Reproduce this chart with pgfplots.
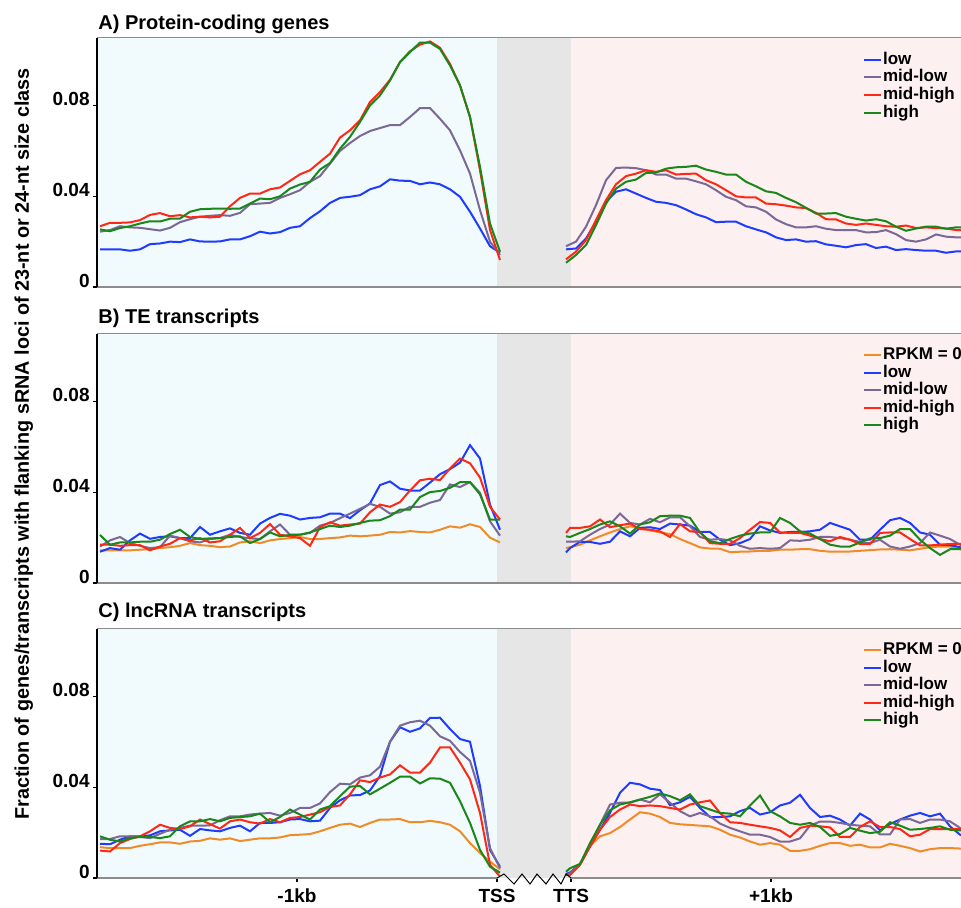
\documentclass[border=0pt]{standalone}
\usepackage{fontspec}
\setmainfont{Liberation Sans}
\usepackage{pgfplots}
\usepackage{pgfplotstable}
\pgfplotsset{compat=1.18}

\definecolor{cRPKM}{RGB}{240,140,40}
\definecolor{cLow}{RGB}{30,60,255}
\definecolor{cMidLow}{RGB}{122,104,150}
\definecolor{cMidHigh}{RGB}{255,40,20}
\definecolor{cHigh}{RGB}{25,135,25}
\definecolor{bgUp}{RGB}{241,250,253}
\definecolor{bgBody}{RGB}{230,230,230}
\definecolor{bgDown}{RGB}{253,240,240}
\definecolor{frameGray}{RGB}{140,140,140}

% ---------- A) protein-coding genes: upstream of TSS (kb) ----------
\pgfplotstableread{
x lo ml mh hi
-1.985 .0166 .0244 .0268 .0254
-1.935 .0166 .0251 .0283 .0246
-1.885 .0166 .0268 .0283 .0260
-1.835 .0160 .0263 .0285 .0268
-1.785 .0166 .0261 .0295 .0280
-1.735 .0189 .0255 .0318 .0290
-1.685 .0192 .0249 .0326 .0289
-1.635 .0200 .0261 .0312 .0301
-1.585 .0198 .0286 .0317 .0302
-1.535 .0210 .0299 .0307 .0332
-1.485 .0201 .0310 .0310 .0343
-1.435 .0200 .0314 .0307 .0345
-1.385 .0201 .0317 .0310 .0346
-1.335 .0210 .0314 .0356 .0345
-1.285 .0210 .0327 .0393 .0346
-1.235 .0224 .0365 .0412 .0368
-1.185 .0244 .0368 .0412 .0390
-1.135 .0236 .0371 .0431 .0387
-1.085 .0242 .0393 .0439 .0400
-1.035 .0261 .0409 .0468 .0434
-0.985 .0268 .0427 .0497 .0452
-0.935 .0304 .0464 .0515 .0464
-0.885 .0334 .0489 .0552 .0518
-0.835 .0371 .0544 .0588 .0547
-0.785 .0393 .0600 .0659 .0610
-0.735 .0398 .0635 .0691 .0662
-0.685 .0405 .0666 .0735 .0728
-0.635 .0431 .0688 .0816 .0801
-0.585 .0444 .0701 .0860 .0845
-0.535 .0475 .0714 .0914 .0911
-0.485 .0469 .0714 .0992 .0992
-0.435 .0468 .0750 .1040 .1036
-0.385 .0453 .0789 .1069 .1078
-0.335 .0461 .0789 .1083 .1078
-0.285 .0453 .0742 .1055 .1050
-0.235 .0431 .0691 .0984 .0977
-0.185 .0398 .0603 .0889 .0889
-0.135 .0332 .0500 .0750 .0750
-0.085 .0258 .0339 .0515 .0530
-0.035 .0180 .0200 .0251 .0280
0.015 .0151 .0141 .0119 .0156
}\protUp
% downstream of TTS (kb)
\pgfplotstableread{
x lo ml mh hi
-0.025 .0166 .0180 .0122 .0107
0.025 .0170 .0200 .0156 .0141
0.075 .0214 .0266 .0207 .0185
0.125 .0288 .0361 .0295 .0273
0.175 .0376 .0471 .0383 .0368
0.225 .0420 .0525 .0453 .0434
0.275 .0431 .0527 .0489 .0464
0.325 .0412 .0524 .0500 .0474
0.375 .0393 .0515 .0515 .0503
0.425 .0376 .0496 .0508 .0505
0.475 .0371 .0496 .0515 .0522
0.525 .0361 .0478 .0496 .0528
0.575 .0342 .0478 .0499 .0530
0.625 .0321 .0466 .0500 .0535
0.675 .0307 .0453 .0471 .0518
0.725 .0286 .0427 .0453 .0508
0.775 .0288 .0398 .0427 .0496
0.825 .0288 .0383 .0400 .0496
0.875 .0268 .0356 .0395 .0464
0.925 .0254 .0351 .0395 .0444
0.975 .0241 .0332 .0368 .0422
1.025 .0219 .0298 .0365 .0415
1.075 .0207 .0277 .0359 .0393
1.125 .0210 .0263 .0351 .0374
1.175 .0200 .0263 .0348 .0349
1.225 .0202 .0268 .0327 .0324
1.275 .0188 .0257 .0299 .0324
1.325 .0182 .0251 .0298 .0326
1.375 .0175 .0251 .0280 .0310
1.425 .0185 .0251 .0274 .0301
1.475 .0189 .0241 .0280 .0293
1.525 .0172 .0242 .0274 .0299
1.575 .0178 .0251 .0268 .0290
1.625 .0163 .0233 .0266 .0266
1.675 .0167 .0207 .0271 .0248
1.725 .0163 .0200 .0260 .0258
1.775 .0160 .0210 .0263 .0266
1.825 .0160 .0232 .0260 .0266
1.875 .0151 .0222 .0258 .0257
1.925 .0157 .0219 .0251 .0263
1.975 .0157 .0219 .0251 .0263
}\protDown

% ---------- B) TE transcripts ----------
\pgfplotstableread{
x r0 lo ml mh hi
-1.985 .0144 .0138 .0161 .0169 .0212
-1.935 .0144 .0154 .0188 .0169 .0169
-1.885 .0144 .0147 .0203 .0164 .0179
-1.835 .0144 .0188 .0176 .0167 .0179
-1.785 .0147 .0218 .0164 .0167 .0182
-1.735 .0149 .0195 .0154 .0144 .0182
-1.685 .0154 .0203 .0158 .0161 .0191
-1.635 .0158 .0206 .0209 .0173 .0216
-1.585 .0164 .0198 .0198 .0198 .0235
-1.535 .0176 .0198 .0184 .0188 .0203
-1.485 .0167 .0247 .0179 .0198 .0194
-1.435 .0164 .0213 .0194 .0179 .0197
-1.385 .0158 .0228 .0198 .0184 .0198
-1.335 .0161 .0241 .0213 .0213 .0203
-1.285 .0179 .0221 .0203 .0243 .0206
-1.235 .0184 .0213 .0197 .0198 .0176
-1.185 .0176 .0262 .0194 .0221 .0194
-1.135 .0188 .0287 .0228 .0260 .0223
-1.085 .0194 .0305 .0258 .0213 .0206
-1.035 .0198 .0297 .0213 .0206 .0212
-0.985 .0203 .0280 .0213 .0198 .0213
-0.935 .0194 .0287 .0221 .0164 .0223
-0.885 .0194 .0290 .0253 .0246 .0238
-0.835 .0198 .0306 .0265 .0268 .0253
-0.785 .0201 .0306 .0286 .0253 .0247
-0.735 .0209 .0286 .0306 .0258 .0253
-0.685 .0206 .0321 .0327 .0262 .0265
-0.635 .0209 .0351 .0349 .0312 .0275
-0.585 .0213 .0432 .0336 .0346 .0277
-0.535 .0225 .0448 .0306 .0336 .0295
-0.485 .0223 .0416 .0312 .0357 .0324
-0.435 .0229 .0408 .0336 .0408 .0324
-0.385 .0225 .0408 .0336 .0453 .0379
-0.335 .0223 .0443 .0354 .0460 .0401
-0.285 .0235 .0480 .0366 .0454 .0406
-0.235 .0250 .0502 .0435 .0505 .0420
-0.185 .0244 .0531 .0423 .0549 .0445
-0.135 .0259 .0608 .0445 .0528 .0445
-0.085 .0247 .0549 .0398 .0465 .0391
-0.035 .0200 .0346 .0272 .0336 .0280
0.015 .0179 .0235 .0209 .0280 .0280
}\teUp
\pgfplotstableread{
x r0 lo ml mh hi
-0.025 .0154 .0135 .0182 .0221 .0206
-0.005 .0158 .0154 .0182 .0243 .0203
0.045 .0169 .0182 .0184 .0243 .0221
0.095 .0188 .0181 .0213 .0250 .0238
0.145 .0206 .0173 .0238 .0280 .0258
0.195 .0223 .0182 .0258 .0246 .0272
0.245 .0238 .0228 .0306 .0255 .0250
0.295 .0250 .0206 .0265 .0262 .0218
0.345 .0243 .0243 .0258 .0238 .0258
0.395 .0232 .0246 .0283 .0235 .0268
0.445 .0223 .0238 .0268 .0228 .0295
0.495 .0216 .0262 .0290 .0203 .0297
0.545 .0194 .0258 .0290 .0260 .0297
0.595 .0176 .0253 .0250 .0228 .0287
0.645 .0157 .0225 .0203 .0225 .0223
0.695 .0152 .0225 .0191 .0176 .0184
0.745 .0151 .0191 .0194 .0173 .0176
0.795 .0136 .0167 .0188 .0173 .0194
0.845 .0138 .0176 .0164 .0198 .0209
0.895 .0139 .0194 .0151 .0235 .0218
0.945 .0142 .0250 .0154 .0269 .0223
0.995 .0142 .0232 .0151 .0265 .0223
1.045 .0147 .0221 .0154 .0223 .0287
1.095 .0147 .0225 .0188 .0221 .0265
1.145 .0149 .0225 .0186 .0221 .0228
1.195 .0149 .0228 .0191 .0209 .0218
1.245 .0142 .0235 .0203 .0194 .0194
1.295 .0138 .0265 .0203 .0184 .0169
1.345 .0138 .0250 .0198 .0203 .0161
1.395 .0139 .0235 .0191 .0191 .0161
1.445 .0142 .0191 .0181 .0172 .0179
1.495 .0145 .0191 .0176 .0172 .0197
1.545 .0148 .0235 .0191 .0221 .0198
1.595 .0149 .0277 .0161 .0223 .0209
1.645 .0147 .0287 .0151 .0223 .0238
1.695 .0144 .0265 .0161 .0194 .0238
1.745 .0151 .0223 .0176 .0166 .0191
1.795 .0158 .0213 .0223 .0166 .0154
1.845 .0161 .0169 .0209 .0169 .0124
1.895 .0161 .0167 .0194 .0172 .0149
1.945 .0151 .0158 .0169 .0173 .0149
1.995 .0147 .0149 .0154 .0169 .0144
}\teDown

% ---------- C) lncRNA transcripts ----------
\pgfplotstableread{
x r0 lo ml mh hi
-1.985 .0136 .0151 .0172 .0121 .0184
-1.935 .0132 .0149 .0172 .0117 .0169
-1.885 .0132 .0169 .0184 .0154 .0161
-1.835 .0132 .0184 .0184 .0172 .0176
-1.785 .0142 .0184 .0181 .0184 .0181
-1.735 .0149 .0188 .0176 .0206 .0181
-1.685 .0157 .0206 .0195 .0235 .0176
-1.635 .0157 .0210 .0213 .0221 .0184
-1.585 .0151 .0213 .0221 .0216 .0228
-1.535 .0161 .0186 .0231 .0228 .0250
-1.485 .0164 .0216 .0231 .0258 .0250
-1.435 .0175 .0210 .0232 .0238 .0260
-1.385 .0169 .0206 .0255 .0218 .0250
-1.335 .0175 .0221 .0272 .0250 .0265
-1.285 .0163 .0231 .0272 .0258 .0269
-1.235 .0169 .0206 .0280 .0246 .0272
-1.185 .0175 .0243 .0284 .0240 .0284
-1.135 .0175 .0243 .0287 .0260 .0246
-1.085 .0179 .0246 .0275 .0246 .0269
-1.035 .0189 .0258 .0287 .0265 .0302
-0.985 .0191 .0260 .0309 .0269 .0280
-0.935 .0194 .0250 .0309 .0280 .0258
-0.885 .0206 .0253 .0329 .0290 .0302
-0.835 .0221 .0309 .0379 .0314 .0317
-0.785 .0235 .0343 .0416 .0320 .0361
-0.735 .0240 .0364 .0413 .0369 .0403
-0.685 .0225 .0366 .0443 .0431 .0406
-0.635 .0243 .0386 .0453 .0423 .0369
-0.585 .0258 .0450 .0491 .0443 .0394
-0.535 .0258 .0601 .0601 .0457 .0420
-0.485 .0260 .0665 .0672 .0497 .0447
-0.435 .0246 .0645 .0687 .0465 .0447
-0.385 .0246 .0660 .0694 .0465 .0417
-0.335 .0252 .0706 .0672 .0509 .0440
-0.285 .0246 .0707 .0625 .0576 .0438
-0.235 .0235 .0657 .0605 .0576 .0420
-0.185 .0206 .0613 .0556 .0509 .0339
-0.135 .0154 .0601 .0517 .0435 .0243
-0.085 .0110 .0406 .0376 .0287 .0124
-0.035 .0073 .0124 .0132 .0058 .0050
0.015 .0038 .0050 .0043 .0006 .0024
}\lncUp
\pgfplotstableread{
x r0 lo ml mh hi
-0.025 .0013 .0018 .0009 .0006 .0028
-0.005 .0024 .0024 .0021 .0013 .0043
0.045 .0058 .0062 .0062 .0058 .0062
0.095 .0142 .0139 .0142 .0139 .0154
0.145 .0184 .0213 .0235 .0213 .0235
0.195 .0198 .0287 .0324 .0269 .0299
0.245 .0225 .0376 .0332 .0302 .0324
0.295 .0258 .0420 .0332 .0324 .0334
0.345 .0290 .0413 .0346 .0317 .0346
0.395 .0284 .0394 .0334 .0320 .0358
0.445 .0269 .0388 .0369 .0317 .0373
0.495 .0243 .0321 .0332 .0309 .0361
0.545 .0237 .0334 .0295 .0302 .0343
0.595 .0234 .0358 .0272 .0324 .0369
0.645 .0231 .0309 .0287 .0334 .0317
0.695 .0228 .0269 .0272 .0342 .0302
0.745 .0213 .0269 .0240 .0287 .0287
0.795 .0191 .0272 .0221 .0246 .0284
0.845 .0179 .0295 .0206 .0243 .0272
0.895 .0161 .0309 .0191 .0235 .0320
0.945 .0147 .0280 .0191 .0228 .0364
0.995 .0154 .0290 .0181 .0221 .0295
1.045 .0147 .0320 .0161 .0210 .0272
1.095 .0120 .0332 .0161 .0181 .0243
1.145 .0120 .0367 .0175 .0221 .0235
1.195 .0127 .0309 .0231 .0231 .0243
1.245 .0142 .0269 .0249 .0228 .0225
1.295 .0154 .0275 .0249 .0223 .0186
1.345 .0154 .0258 .0243 .0181 .0194
1.395 .0142 .0231 .0235 .0181 .0221
1.445 .0147 .0284 .0231 .0225 .0209
1.495 .0135 .0258 .0228 .0250 .0198
1.545 .0135 .0210 .0192 .0225 .0204
1.595 .0151 .0238 .0192 .0225 .0246
1.645 .0142 .0258 .0258 .0216 .0231
1.695 .0132 .0275 .0260 .0184 .0213
1.745 .0117 .0287 .0243 .0191 .0216
1.795 .0127 .0272 .0258 .0216 .0221
1.845 .0132 .0284 .0258 .0216 .0228
1.895 .0132 .0228 .0250 .0216 .0213
1.945 .0130 .0191 .0221 .0216 .0210
1.995 .0129 .0184 .0206 .0216 .0216
}\lncDown

% gene body (TSS..TTS) is drawn as a fixed-width gap of 0.37 units
\newcommand{\bodygap}{0.37}

\pgfplotsset{
  profile/.style={
    scale only axis, width=432pt, height=124.7pt,
    xmin=-2, xmax=2.32, ymin=0, ymax=0.11,
    axis on top,
    axis x line*=box, axis y line*=left,
    x axis line style={-, draw=frameGray, line width=0.7pt},
    y axis line style={-, draw=black, line width=0.7pt},
    tick pos=left, tick align=outside,
    major tick length=2pt,
    tick style={black, line width=0.6pt},
    ytick={0,0.04,0.08},
    yticklabels={\textbf{0},\textbf{0.04},\textbf{0.08}},
    yticklabel style={anchor=base east, inner sep=0pt, xshift=-1.5pt,
      font=\fontsize{9.5}{11}\selectfont\bfseries},
    xtick=\empty,
    every axis plot/.append style={line width=1pt, no marks},
    title style={at={(0,1)}, anchor=base west, inner sep=0pt, xshift=0.5pt,
      font=\fontsize{10}{12}\selectfont\bfseries},
    legend cell align=left,
    legend image code/.code={\draw[##1] (0pt,0pt) -- (8.5pt,0pt);},
    legend style={draw=none, fill=none, anchor=north west, inner sep=0pt,
      font=\fontsize{8.5}{10}\selectfont\bfseries, row sep=0.2pt,
      nodes={inner sep=0.3pt, text height=6.2pt, text depth=1.8pt}},
  },
}

\newcommand{\regions}{%
  \fill[bgUp] (axis cs:-2.1,0) rectangle (axis cs:0,0.11);
  \fill[bgBody] (axis cs:0,0) rectangle (axis cs:\bodygap,0.11);
  \fill[bgDown] (axis cs:\bodygap,0) rectangle (axis cs:2.5,0.11);
}

\begin{document}
\begin{tikzpicture}

% ---------------- A ----------------
% (the default title style already lifts the title by 6pt)
\begin{axis}[profile, at={(0pt,295.5pt)}, anchor=south west,
  title={A) Protein-coding genes}, title style={yshift=-1.8pt},
  legend style={at={(0.8866,0.947)}},
  legend entries={low,mid-low,mid-high,high}]
\regions
\addplot[cLow]     table[x=x,y=lo]{\protUp};
\addplot[cMidLow]  table[x=x,y=ml]{\protUp};
\addplot[cMidHigh] table[x=x,y=mh]{\protUp};
\addplot[cHigh]    table[x=x,y=hi]{\protUp};
\addplot[cLow,forget plot]     table[x expr=\thisrow{x}+\bodygap,y=lo]{\protDown};
\addplot[cMidLow,forget plot]  table[x expr=\thisrow{x}+\bodygap,y=ml]{\protDown};
\addplot[cMidHigh,forget plot] table[x expr=\thisrow{x}+\bodygap,y=mh]{\protDown};
\addplot[cHigh,forget plot]    table[x expr=\thisrow{x}+\bodygap,y=hi]{\protDown};
\end{axis}

% ---------------- B ----------------
\begin{axis}[profile, at={(0pt,147.5pt)}, anchor=south west,
  title={B) TE transcripts}, title style={yshift=-0.7pt},
  legend style={at={(0.8866,0.95)}},
  legend entries={RPKM = 0,low,mid-low,mid-high,high}]
\regions
\addplot[cRPKM]    table[x=x,y=r0]{\teUp};
\addplot[cLow]     table[x=x,y=lo]{\teUp};
\addplot[cMidLow]  table[x=x,y=ml]{\teUp};
\addplot[cMidHigh] table[x=x,y=mh]{\teUp};
\addplot[cHigh]    table[x=x,y=hi]{\teUp};
\addplot[cRPKM,forget plot]    table[x expr=\thisrow{x}+\bodygap,y=r0]{\teDown};
\addplot[cLow,forget plot]     table[x expr=\thisrow{x}+\bodygap,y=lo]{\teDown};
\addplot[cMidLow,forget plot]  table[x expr=\thisrow{x}+\bodygap,y=ml]{\teDown};
\addplot[cMidHigh,forget plot] table[x expr=\thisrow{x}+\bodygap,y=mh]{\teDown};
\addplot[cHigh,forget plot]    table[x expr=\thisrow{x}+\bodygap,y=hi]{\teDown};
\end{axis}

% ---------------- C ----------------
\begin{axis}[profile, at={(0pt,0pt)}, anchor=south west,
  title={C) lncRNA transcripts}, title style={yshift=-0.5pt},
  legend style={at={(0.8866,0.95)}},
  legend entries={RPKM = 0,low,mid-low,mid-high,high},
  xtick={-1,0,0.37,1.37},
  xticklabels={\textbf{-1kb},\textbf{TSS},\textbf{TTS},\textbf{+1kb}},
  xticklabel style={font=\fontsize{9.5}{11}\selectfont\bfseries}]
\regions
\addplot[cRPKM]    table[x=x,y=r0]{\lncUp};
\addplot[cLow]     table[x=x,y=lo]{\lncUp};
\addplot[cMidLow]  table[x=x,y=ml]{\lncUp};
\addplot[cMidHigh] table[x=x,y=mh]{\lncUp};
\addplot[cHigh]    table[x=x,y=hi]{\lncUp};
\addplot[cRPKM,forget plot]    table[x expr=\thisrow{x}+\bodygap,y=r0]{\lncDown};
\addplot[cLow,forget plot]     table[x expr=\thisrow{x}+\bodygap,y=lo]{\lncDown};
\addplot[cMidLow,forget plot]  table[x expr=\thisrow{x}+\bodygap,y=ml]{\lncDown};
\addplot[cMidHigh,forget plot] table[x expr=\thisrow{x}+\bodygap,y=mh]{\lncDown};
\addplot[cHigh,forget plot]    table[x expr=\thisrow{x}+\bodygap,y=hi]{\lncDown};
\end{axis}

% axis break between TSS (200pt) and TTS (237pt) on the lowest panel
\fill[white]  (200.5pt,-1pt) rectangle (236.5pt,0pt);
\fill[bgBody] (200.5pt,0pt) rectangle (236.5pt,1pt);
\draw[black, line width=0.5pt, line join=miter]
  (200pt,0pt) -- (203.5pt,2pt) -- (208.5pt,-3pt) -- (212.5pt,2pt)
  -- (216.5pt,-3pt) -- (220pt,2pt) -- (224.5pt,-3pt) -- (228pt,2pt)
  -- (232pt,-3pt) -- (234.5pt,2pt) -- (237pt,0pt);

% shared y label
\node[rotate=90, anchor=base, font=\fontsize{9.9}{12}\selectfont\bfseries]
  at (-34pt,217pt)
  {Fraction of genes/transcripts with flanking sRNA loci of 23-nt or 24-nt size class};

\pgfresetboundingbox
\path[use as bounding box] (-48.5pt,-14.5pt) rectangle (432pt,439pt);
\end{tikzpicture}
\end{document}
